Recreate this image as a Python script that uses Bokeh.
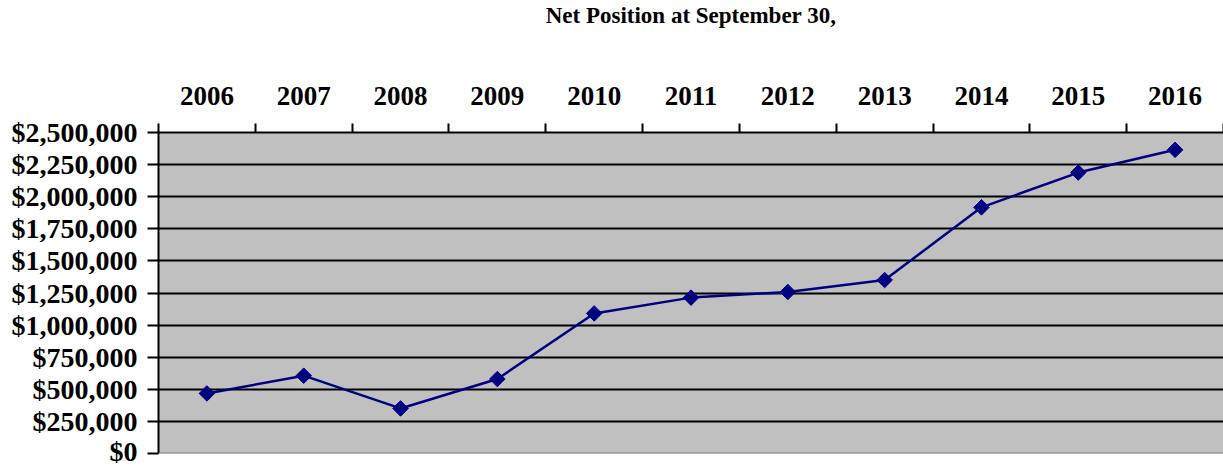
import numpy as np
from bokeh.plotting import figure
from bokeh.models import (Range1d, FixedTicker, NumeralTickFormatter, LinearAxis,
                          Span, BoxAnnotation, Title)
from bokeh.embed import file_html
from bokeh.resources import INLINE

years = [2006, 2007, 2008, 2009, 2010, 2011, 2012, 2013, 2014, 2015, 2016]
net_position = [468000, 606000, 351000, 580000, 1091000, 1214000, 1258000,
                1351000, 1917000, 2188000, 2365000]
y_ticks = [0, 250000, 500000, 750000, 1000000, 1250000, 1500000, 1750000,
           2000000, 2250000, 2500000]
title_text = "Net Position at September 30,"

FONT = "Liberation Serif"

p = figure(width=1223, height=466, output_backend="svg", toolbar_location=None,
           x_range=Range1d(years[0] - 0.5, years[-1] + 0.5),
           y_range=Range1d(y_ticks[0], y_ticks[-1]),
           x_axis_location=None, y_axis_location=None,
           min_border_left=158, min_border_right=0, min_border_bottom=13,
           min_border_top=0)

p.title.text = title_text
p.title.align = "center"
p.title.text_font = FONT
p.title.text_font_size = "23px"
p.title.text_font_style = "bold"
p.title.text_color = "black"
p.title.standoff = 0

p.background_fill_color = "white"
p.border_fill_color = "white"
p.outline_line_color = None

# top category axis
xa = LinearAxis()
xa.ticker = FixedTicker(ticks=years,
                        minor_ticks=[y - 0.5 for y in years] + [years[-1] + 0.5])
xa.major_tick_out = 0
xa.major_tick_in = 0
xa.minor_tick_out = 9
xa.minor_tick_in = 0
xa.minor_tick_line_color = "black"
xa.minor_tick_line_width = 2
xa.axis_line_color = "black"
xa.axis_line_width = 2
xa.major_label_text_font = FONT
xa.major_label_text_font_size = "27px"
xa.major_label_text_font_style = "bold"
xa.major_label_text_color = "black"
xa.major_label_standoff = 19
p.add_layout(xa, "above")

# spacer between the year labels and the title
p.add_layout(Title(text=" ", text_font_size="1px", standoff=53), "above")

# left value axis
ya = LinearAxis()
ya.ticker = FixedTicker(ticks=y_ticks, minor_ticks=[])
ya.formatter = NumeralTickFormatter(format="$0,0")
ya.major_tick_out = 11
ya.major_tick_in = 0
ya.major_tick_line_color = "black"
ya.major_tick_line_width = 2
ya.axis_line_color = "black"
ya.axis_line_width = 2
ya.major_label_text_font = FONT
ya.major_label_text_font_size = "28px"
ya.major_label_text_font_style = "bold"
ya.major_label_text_color = "black"
ya.major_label_standoff = 10
p.add_layout(ya, "left")

p.xgrid.visible = False
p.ygrid.ticker = FixedTicker(ticks=y_ticks)
p.ygrid.grid_line_color = "black"
p.ygrid.grid_line_width = 2
p.ygrid.grid_line_alpha = 1

p.add_layout(BoxAnnotation(fill_color="#C0C0C0", fill_alpha=1, line_color=None, level="image"))
p.add_layout(Span(location=y_ticks[0], dimension="width", line_color="#808080", line_width=2))

p.line(years, net_position, line_color="#000080", line_width=2.5)
p.scatter(years, net_position, marker="square", angle=np.pi / 4, size=11,
          fill_color="#000080", line_color="#000080")

open("out.html", "w").write(file_html(p, INLINE))
